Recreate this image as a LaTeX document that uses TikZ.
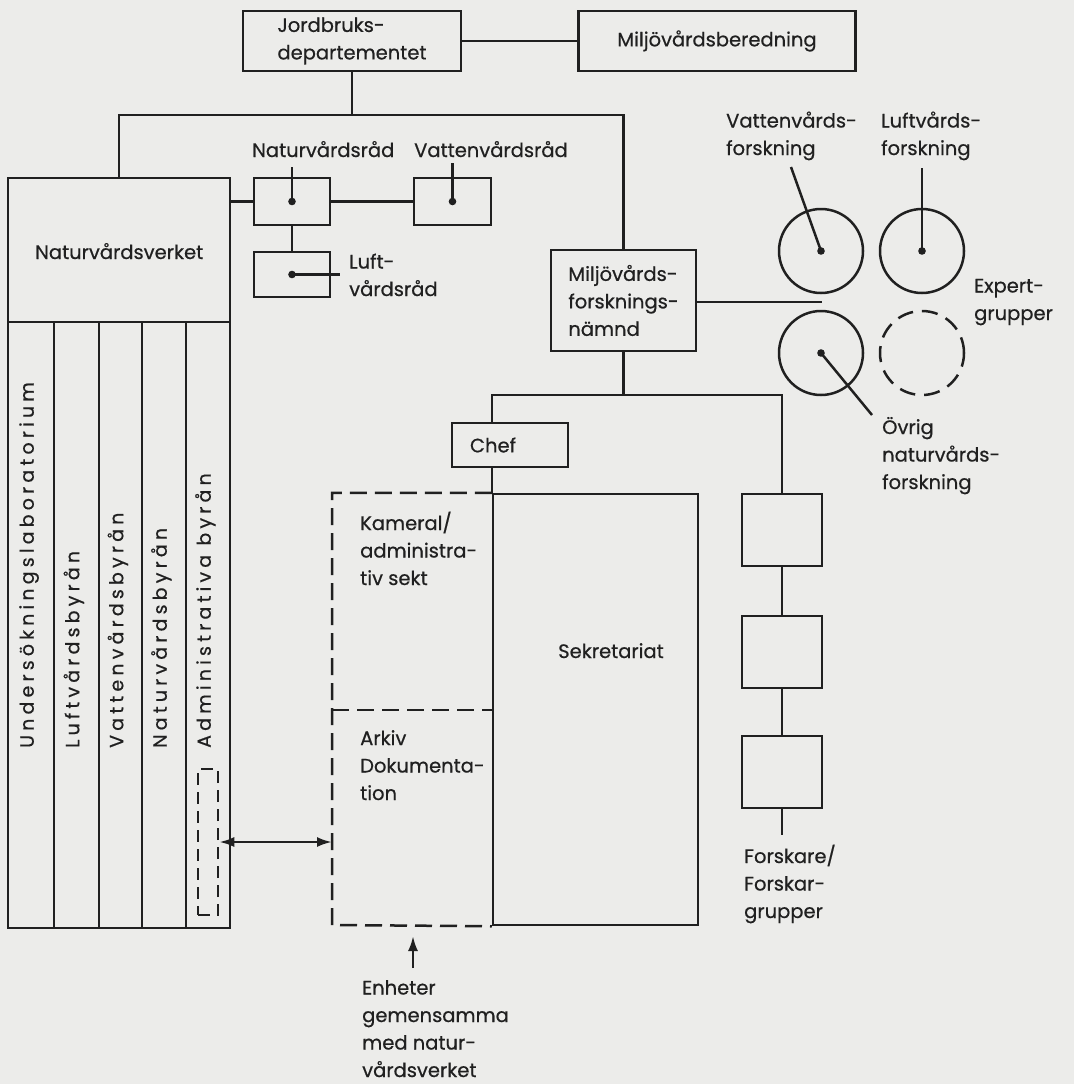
\documentclass[tikz,border=0pt]{standalone}
\usepackage{fontspec}
\setmainfont[FakeBold=0.6]{Poppins}
\newfontfamily\sperrfont[LetterSpace=22,FakeBold=0.6]{Poppins}
\usetikzlibrary{positioning,arrows.meta,backgrounds}
\definecolor{paper}{RGB}{236,236,234}
\definecolor{ink}{RGB}{32,32,32}
\tikzset{%
org/.style={draw=ink,rectangle,line width=2.5pt,inner sep=0pt,align=left,text=ink,font=\fontsize{19.5}{27.5}\selectfont},
grp/.style={draw=ink,circle,line width=2.5pt,inner sep=0pt,minimum size=84pt},
lbl/.style={font=\fontsize{19.5}{27.5}\selectfont,text=ink,align=left,inner sep=0pt,anchor=base west},
byra/.style={font=\fontsize{19}{20}\sperrfont,text=ink,inner sep=0pt,rotate=90,anchor=mid west},
link/.style={draw=ink,line width=2.5pt},
gem/.style={draw=ink,line width=2.5pt,dash pattern=on 17pt off 8pt},
spitz/.style={-{Latex[length=15pt,width=10pt]}}
}
\begin{document}
\begin{tikzpicture}[x=1pt,y=-1pt]

    \node[org,minimum width=218pt,minimum height=60pt] (jord) at (352,41) {Jordbruks-\\departementet};
    \node[org,minimum width=277pt,minimum height=60pt] (bered) at (717,41) {Miljövårdsberedning};

    % Naturvårdsverket
    \node[org,minimum width=222pt,minimum height=750pt] (nvv) at (119,553) {};
    \node[lbl] (nvvl) at (35,259) {Naturvårdsverket};
    \foreach \nm/\cx/\w/\txt in {ulab/31/46/Undersökningslaboratorium,
        lbyr/76.5/45/Luftvårdsbyrån, vbyr/120.5/43/Vattenvårdsbyrån,
        nbyr/164/44/Naturvårdsbyrån, abyr/208/44/Administrativa byrån}{
      \node[org,minimum width=\w pt,minimum height=606pt] (\nm) at (\cx,625) {};
      \node[byra] (\nm l) at (\cx,748) {\txt};
    }
    \node[org,dash pattern=on 12pt off 7pt,minimum width=20pt,minimum height=146pt] (admark) at (208,842) {};

    % råd
    \node[org,minimum width=76pt,minimum height=47pt] (nvr) at (292,201.5) {};
    \node[org,minimum width=77pt,minimum height=47pt] (vvr) at (452.5,201.5) {};
    \node[org,minimum width=76pt,minimum height=45pt] (lvr) at (292,274.5) {};
    \node[lbl] (nvrl) at (252,157) {Naturvårdsråd};
    \node[lbl] (vvrl) at (414,157) {Vattenvårdsråd};
    \node[lbl] (lvrl) at (349,296) {Luft-\\vårdsråd};
    \coordinate (nvrpin) at (292,167);
    \coordinate (vvrpin) at (452.5,163);
    \coordinate (lvrpin) at (340,274.5);

    % forskningsnämnd
    \node[org,minimum width=145pt,minimum height=101pt] (mfn) at (623.5,300.5) {Miljövårds-\\forsknings-\\nämnd};
    \node[grp] (vfc) at (821,251) {};
    \node[grp] (lfc) at (922,251) {};
    \node[grp] (ofc) at (821,353) {};
    \node[grp,dash pattern=on 16pt off 9pt] (xfc) at (922,353) {};
    \node[lbl] (vfl) at (726,155) {Vattenvårds-\\forskning};
    \node[lbl] (lfl) at (881,155) {Luftvårds-\\forskning};
    \node[lbl] (exl) at (974,320) {Expert-\\grupper};
    \node[lbl] (ofl) at (882,489) {Övrig\\naturvårds-\\forskning};
    \coordinate (vfpin) at (791,167);
    \coordinate (lfpin) at (922,168);
    \coordinate (ofpin) at (872,415);
    \coordinate (expert) at (822,302);

    % sekretariat
    \node[org,minimum width=205pt,minimum height=431pt] (sekr) at (595.5,709.5) {};
    \node[lbl] (sekrl) at (558,658) {Sekretariat};
    \node[org,fill=paper,text width=80pt,inner xsep=18pt,minimum height=44pt] (chef) at (510,445) {Chef};
    \node[lbl] (kaml) at (360,585) {Kameral/\\administra-\\tiv sekt};
    \node[lbl] (arkl) at (360,800) {Arkiv\\Dokumenta-\\tion};
    \node[lbl] (enh) at (362,1077) {Enheter\\gemensamma\\med natur-\\vårdsverket};
    \coordinate (gemsw) at (332,925);
    \coordinate (gemmid) at (332,710);
    \coordinate (enhfoot) at (413,968);
    \coordinate (enhtip) at (413,936);

    % forskare
    \foreach \i/\cy in {1/530,2/652,3/772}
      \node[org,minimum width=80pt,minimum height=72pt] (fr\i) at (782,\cy) {};
    \node[lbl] (frl) at (744,918) {Forskare/\\Forskar-\\grupper};
    \coordinate (frpin) at (782,835);

    \coordinate (bus1) at (352,115);
    \coordinate (bus2) at (623.5,395);

    \begin{scope}[on background layer]
    \fill[paper] (0,0) rectangle (1074,1084);
    \draw[link] (jord.east) -- (bered.west);
    \draw[link] (jord.south) -- (bus1);
    \draw[link] (nvv.north) |- (bus1) -| (mfn.north);
    \draw[link] (nvr.west -| nvv.east) -- (nvr.west);
    \draw[link] (nvr.east) -- (vvr.west);
    \draw[link] (nvr.south) -- (lvr.north);
    \draw[link] (mfn.east |- expert) -- (expert);
    \draw[link] (mfn.south) -- (bus2);
    \draw[link] (sekr.north west) |- (bus2) -| (fr1.north);
    \draw[link] (fr1) -- (fr2) -- (fr3);
    \draw[link] (fr3.south) -- (frpin);
    \end{scope}

    % nålar
    \draw[link] (nvr.center) -- (nvrpin);
    \draw[link] (vvr.center) -- (vvrpin);
    \draw[link] (lvr.center) -- (lvrpin);
    \draw[link] (vfc.center) -- (vfpin);
    \draw[link] (lfc.center) -- (lfpin);
    \draw[link] (ofc.center) -- (ofpin);
    \foreach \n in {nvr,vvr,lvr,vfc,lfc,ofc}
      \fill[ink] (\n.center) circle[radius=3.8pt];

    % gemensamma enheter
    \draw[gem] (sekr.north west) -| (gemsw) -- (sekr.south west);
    \draw[gem] (gemmid) -- (gemmid -| sekr.west);
    \draw[link,{Latex[length=15pt,width=10pt]}-{Latex[length=15pt,width=10pt]}] (admark.east) -- (admark.east -| gemsw);
    \draw[link,spitz] (enhfoot) -- (enhtip);
\end{tikzpicture}
\end{document}
